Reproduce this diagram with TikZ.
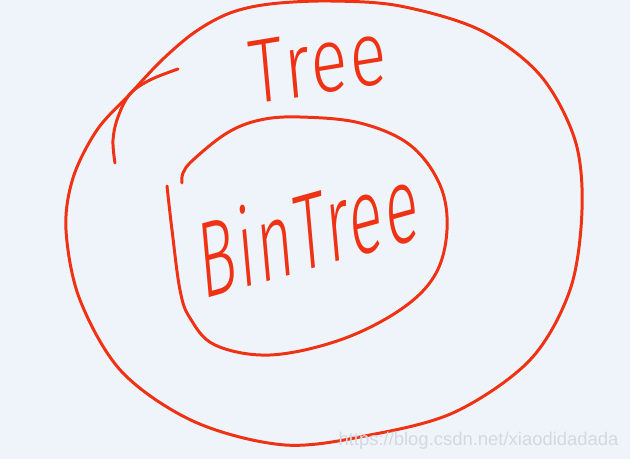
\documentclass[tikz,border=0pt]{standalone}
\usepackage{fontspec}
\setmainfont{Liberation Sans}
\newfontfamily\handfont[LetterSpace=4]{Fira Sans Light}
\definecolor{InkRed}{HTML}{F03214}
\definecolor{PaperBlue}{HTML}{EFF4FA}
\definecolor{MarkGray}{HTML}{D3D9E0}

\begin{document}
\begin{tikzpicture}[x=0.02cm,y=-0.02cm,line width=1.7pt,draw=InkRed,line cap=round,line join=round]
\fill[PaperBlue] (0,0) rectangle (630,459);
\useasboundingbox (0,0) rectangle (630,459);
\draw plot[smooth cycle,tension=0.55] coordinates {(330,1) (400,6) (480,30) (540,75) (575,140) (582,210) (570,290) (530,360) (455,412) (370,435) (285,445) (195,422) (122,372) (80,300) (66,230) (73,178) (97,130) (130,94) (162,60) (195,32) (230,13) (270,4)};
\draw plot[smooth,tension=0.6] coordinates {(178,69) (150,80) (130,94) (118,117) (113,140) (115,163)};
\draw plot[smooth,tension=0.6] coordinates {(182,183) (183,173) (193,160) (227,133) (260,120) (300,117) (360,123) (410,145) (440,185) (447,230) (435,275) (400,310) (340,340) (270,355) (215,345) (190,318) (180,290) (172,230) (167,186)};
\node[text=InkRed,font=\handfont\fontsize{52}{52}\selectfont,xscale=0.75,rotate=7,transform shape] (tree) at (318,63) {Tree};
\node[text=InkRed,font=\handfont\fontsize{62}{62}\selectfont,xscale=0.57,rotate=9,transform shape] (bintree) at (308,229) {BinTree};
\node[text=MarkGray,font=\fontsize{10.5}{10.5}\selectfont,anchor=east,inner sep=0pt] (mark) at (620,441) {https://blog.csdn.net/xiaodidadada};
\end{tikzpicture}
\end{document}
